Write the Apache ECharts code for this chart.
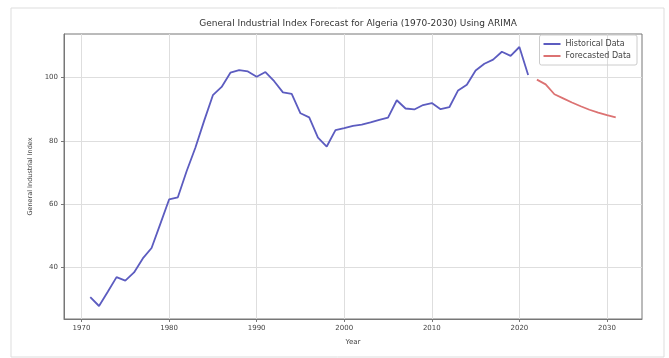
<!DOCTYPE html>
<html><head><meta charset="utf-8">
<script src="https://cdn.jsdelivr.net/npm/echarts@6/dist/echarts.min.js"></script>
<style>html,body{margin:0;padding:0;background:#fff}#c{width:669px;height:358px}</style>
</head><body><div id="c"></div>
<script>
const histYears = [1971,1972,1973,1974,1975,1976,1977,1978,1979,1980,1981,1982,1983,1984,1985,1986,1987,1988,1989,1990,1991,1992,1993,1994,1995,1996,1997,1998,1999,2000,2001,2002,2003,2004,2005,2006,2007,2008,2009,2010,2011,2012,2013,2014,2015,2016,2017,2018,2019,2020,2021];
const histValues = [30.7,27.9,32.4,37.0,35.9,38.5,42.9,46.2,53.8,61.5,62.2,70.4,77.8,86.3,94.4,97.0,101.5,102.3,101.9,100.2,101.7,98.8,95.3,94.8,88.7,87.4,81.0,78.2,83.4,84.0,84.7,85.1,85.8,86.6,87.3,92.8,90.2,89.9,91.3,91.9,90.0,90.6,95.9,97.7,102.2,104.3,105.6,108.1,106.8,109.6,100.8];
const fcYears = [2022,2023,2024,2025,2026,2027,2028,2029,2030,2031];
const fcValues = [99.3,97.8,94.7,93.4,92.1,90.9,89.8,88.9,88.1,87.4];
const xTicks = [1970,1980,1990,2000,2010,2020,2030];
const yTicks = [40,60,80,100];

const FONT = 'DejaVu Sans';
const chart = echarts.init(document.getElementById('c'), null, {renderer: 'canvas'});
chart.setOption({
  animation: false,
  backgroundColor: '#fff',
  textStyle: {fontFamily: FONT},
  title: {
    text: 'General Industrial Index Forecast for Algeria (1970-2030) Using ARIMA',
    left: 353, top: 14, textAlign: 'center',
    textStyle: {fontFamily: FONT, fontSize: 9, fontWeight: 'normal', color: '#333'}
  },
  graphic: [{
    type: 'rect', shape: {x: 11, y: 8, width: 653, height: 349},
    style: {fill: 'none', stroke: '#ddd', lineWidth: 1}, silent: true, z: -1
  }],
  legend: {
    right: 32, top: 35, orient: 'vertical', itemGap: 4,
    icon: 'rect', itemWidth: 17, itemHeight: 2,
    borderColor: '#ccc', borderWidth: 1, borderRadius: 2, padding: [5, 6, 5, 4],
    textStyle: {fontFamily: FONT, fontSize: 8, color: '#444'},
    data: ['Historical Data', 'Forecasted Data']
  },
  grid: {left: 64, right: 27, top: 34, bottom: 39, show: true, borderColor: '#777', borderWidth: 1, backgroundColor: 'transparent'},
  xAxis: {
    type: 'value', min: 1968, max: 2034,
    name: 'Year', nameLocation: 'middle', nameGap: 20,
    nameTextStyle: {fontFamily: FONT, fontSize: 7, color: '#444'},
    axisLine: {show: true, lineStyle: {color: '#777'}},
    axisTick: {show: true, customValues: xTicks, length: 3, lineStyle: {color: '#777'}},
    axisLabel: {customValues: xTicks, formatter: v => String(v), fontFamily: FONT, fontSize: 7, color: '#444', margin: 6},
    splitLine: {show: true, lineStyle: {color: '#dedede', width: 1}}
  },
  yAxis: {
    type: 'value', min: 23.8, max: 113.7,
    name: 'General Industrial Index', nameLocation: 'middle', nameGap: 30,
    nameTextStyle: {fontFamily: FONT, fontSize: 6.5, color: '#444'},
    axisLine: {show: true, lineStyle: {color: '#777'}},
    axisTick: {show: true, customValues: yTicks, length: 3, lineStyle: {color: '#777'}},
    axisLabel: {customValues: yTicks, formatter: v => String(v), fontFamily: FONT, fontSize: 7, color: '#444', margin: 6},
    splitLine: {show: true, lineStyle: {color: '#dedede', width: 1}}
  },
  series: [{
    name: 'Historical Data', type: 'line', showSymbol: false, symbol: 'none',
    data: histYears.map((y, i) => [y, histValues[i]]),
    lineStyle: {color: '#5c5cc0', width: 1.8}, itemStyle: {color: '#5c5cc0'}
  }, {
    name: 'Forecasted Data', type: 'line', showSymbol: false, symbol: 'none',
    data: fcYears.map((y, i) => [y, fcValues[i]]),
    lineStyle: {color: '#dc7272', width: 1.8}, itemStyle: {color: '#dc7272'}
  }]
});
</script></body></html>
